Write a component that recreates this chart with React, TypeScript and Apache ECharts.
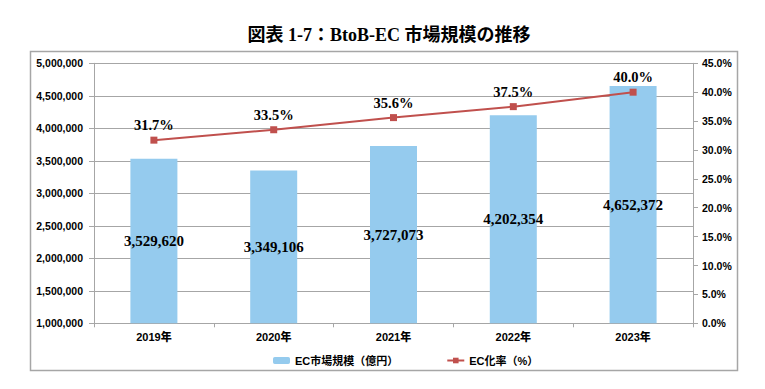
import React, { useEffect, useRef } from "react";
import * as echarts from "echarts";

const categories = ["2019年", "2020年", "2021年", "2022年", "2023年"];
const marketSize = [3529620, 3349106, 3727073, 4202354, 4652372];
const ecRate = [31.7, 33.5, 35.6, 37.5, 40.0];
const seriesNames = ["EC市場規模（億円）", "EC化率（%）"];
const titleText = "図表 1-7：BtoB-EC 市場規模の推移";

const SANS = "'Liberation Sans', 'Noto Sans CJK JP', sans-serif";
const SERIF = "'Liberation Serif', 'Noto Sans CJK JP', serif";

export default function App() {
  const ref = useRef<HTMLDivElement>(null);
  useEffect(() => {
    if (!ref.current) return;
    const chart = echarts.init(ref.current, null, { renderer: "svg" });
    const axisFont = { fontFamily: SANS, fontWeight: 900 as const, fontSize: 10.5, color: "#000" };
    chart.setOption({
      animation: false,
      backgroundColor: "#fff",
      title: {
        text: titleText,
        left: 384,
        textAlign: "center",
        top: 21,
        textStyle: { fontFamily: SERIF, fontWeight: "bold", fontSize: 18, color: "#000" },
      },
      graphic: [
        {
          type: "rect",
          shape: { x: 30.5, y: 51.5, width: 707, height: 319 },
          style: { fill: "none", stroke: "#A6A6A6", lineWidth: 1.5 },
          silent: true,
        },
      ],
      legend: {
        data: seriesNames,
        left: 268,
        top: 350,
        itemWidth: 17,
        itemHeight: 7,
        itemGap: 48,
        textStyle: { fontFamily: SANS, fontWeight: "bold", fontSize: 11, color: "#000" },
      },
      grid: { left: 94, right: 72, top: 63.3, bottom: 65.7 },
      xAxis: {
        type: "category",
        data: categories,
        axisLine: { lineStyle: { color: "#A6A6A6", width: 1 } },
        axisTick: { show: true, length: 4, lineStyle: { color: "#A6A6A6" } },
        axisLabel: { ...axisFont, fontSize: 11, margin: 8 },
      },
      yAxis: [
        {
          type: "value",
          min: 1000000,
          max: 5000000,
          interval: 500000,
          axisLine: { show: true, lineStyle: { color: "#A6A6A6" } },
          axisTick: { show: true, length: 5, lineStyle: { color: "#A6A6A6" } },
          splitLine: { lineStyle: { color: "#A6A6A6", width: 1 } },
          axisLabel: {
            ...axisFont,
            margin: 11,
            formatter: (v: number) => v.toLocaleString("en-US"),
          },
        },
        {
          type: "value",
          min: 0,
          max: 45,
          interval: 5,
          axisLine: { show: true, lineStyle: { color: "#A6A6A6" } },
          axisTick: { show: true, length: 5, lineStyle: { color: "#A6A6A6" } },
          splitLine: { show: false },
          axisLabel: {
            ...axisFont,
            margin: 9,
            formatter: (v: number) => v.toFixed(1) + "%",
          },
        },
      ],
      series: [
        {
          name: seriesNames[0],
          type: "bar",
          data: marketSize,
          barWidth: 47,
          itemStyle: { color: "#95CBEE" },
          label: {
            show: true,
            position: "inside",
            fontFamily: SERIF,
            fontWeight: "bold",
            fontSize: 15,
            color: "#000",
            formatter: (p: any) => Number(p.value).toLocaleString("en-US"),
          },
        },
        {
          name: seriesNames[1],
          type: "line",
          yAxisIndex: 1,
          data: ecRate,
          symbol: "rect",
          symbolSize: 7,
          itemStyle: { color: "#C0504D" },
          lineStyle: { color: "#C0504D", width: 2 },
          label: {
            show: true,
            position: "top",
            distance: 4,
            fontFamily: SERIF,
            fontWeight: "bold",
            fontSize: 14.5,
            color: "#000",
            formatter: (p: any) => Number(p.value).toFixed(1) + "%",
          },
        },
      ],
    });
    return () => chart.dispose();
  }, []);
  return (
    <div
      ref={ref}
      style={{ position: "fixed", left: 0, top: 0, width: 765, height: 389 }}
    />
  );
}
